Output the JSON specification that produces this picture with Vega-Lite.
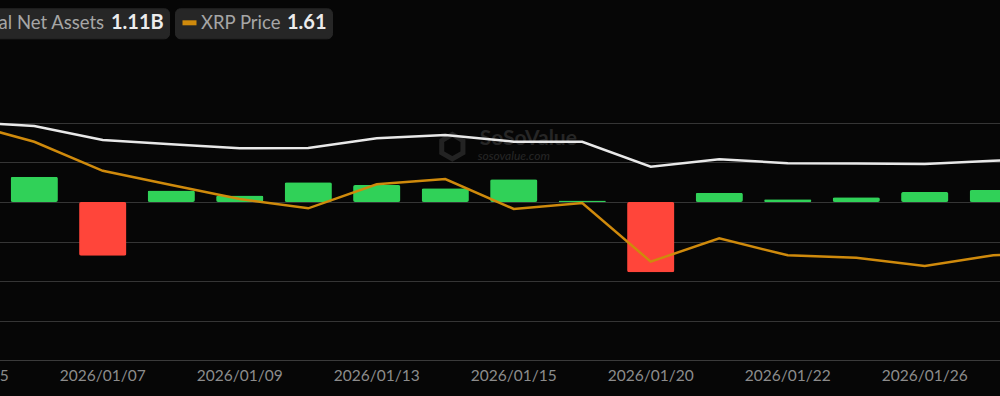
{
  "$schema": "https://vega.github.io/schema/vega-lite/v6.json",
  "width": 1164.5,
  "height": 237,
  "autosize": {"type": "none"},
  "padding": {"left": -68.5, "top": 123, "right": -96, "bottom": 36},
  "background": "#060606",
  "config": {
    "view": {"stroke": null},
    "font": "Lato",
    "legend": {
      "orient": "none",
      "direction": "horizontal",
      "titleOrient": "right",
      "titleColor": "#ececec",
      "titleFontWeight": "bold",
      "titleFontSize": 20,
      "titlePadding": 6,
      "labelColor": "#a6a6a6",
      "labelFontSize": 18.5,
      "labelFontWeight": "normal",
      "labelOffset": 2,
      "symbolType": "stroke",
      "symbolStrokeWidth": 5,
      "symbolSize": 196,
      "fillColor": "#262626",
      "cornerRadius": 5,
      "padding": 5,
      "strokeColor": "#262626",
      "legendY": -114.7
    }
  },
  "data": {
    "values": [
      {"date": "2026/01/05", "flow": 46000000, "assets": 1326000000, "price": 2.40},
      {"date": "2026/01/06", "flow": 19100000, "assets": 1303000000, "price": 2.305},
      {"date": "2026/01/07", "flow": -40800000, "assets": 1225000000, "price": 2.158},
      {"date": "2026/01/08", "flow": 8700000, "assets": 1201000000, "price": 2.086},
      {"date": "2026/01/09", "flow": 4900000, "assets": 1179000000, "price": 2.015},
      {"date": "2026/01/12", "flow": 15000000, "assets": 1181000000, "price": 1.968},
      {"date": "2026/01/13", "flow": 12900000, "assets": 1235000000, "price": 2.090},
      {"date": "2026/01/14", "flow": 10500000, "assets": 1253000000, "price": 2.116},
      {"date": "2026/01/15", "flow": 17200000, "assets": 1216000000, "price": 1.965},
      {"date": "2026/01/16", "flow": 1100000, "assets": 1215000000, "price": 1.995},
      {"date": "2026/01/20", "flow": -53300000, "assets": 1077000000, "price": 1.698},
      {"date": "2026/01/21", "flow": 7100000, "assets": 1118000000, "price": 1.816},
      {"date": "2026/01/22", "flow": 2000000, "assets": 1096000000, "price": 1.730},
      {"date": "2026/01/23", "flow": 3600000, "assets": 1095000000, "price": 1.718},
      {"date": "2026/01/26", "flow": 7600000, "assets": 1092000000, "price": 1.676},
      {"date": "2026/01/27", "flow": 9100000, "assets": 1110000000, "price": 1.730},
      {"date": "2026/01/28", "flow": 5000000, "assets": 1116000000, "price": 1.750}
    ]
  },
  "encoding": {
    "x": {
      "field": "date",
      "type": "ordinal",
      "sort": null,
      "scale": {"paddingInner": 0.31, "paddingOuter": 0.155},
      "axis": {
        "title": null,
        "values": ["2026/01/05", "2026/01/07", "2026/01/09", "2026/01/13", "2026/01/15", "2026/01/20", "2026/01/22", "2026/01/26"],
        "labelAngle": 0,
        "ticks": false,
        "grid": false,
        "domainColor": "#3a3a3a",
        "labelColor": "#8c8c8c",
        "labelFontSize": 15.5,
        "labelPadding": 8
      }
    }
  },
  "layer": [
    {
      "mark": {"type": "bar", "cornerRadius": 2},
      "encoding": {
        "y": {
          "field": "flow",
          "type": "quantitative",
          "scale": {"domain": [-120000000, 60000000], "nice": false, "zero": false},
          "axis": {
            "title": null,
            "labels": false,
            "ticks": false,
            "domain": false,
            "grid": true,
            "gridColor": "#353535",
            "values": [-90000000, -60000000, -30000000, 0, 30000000, 60000000]
          }
        },
        "color": {"condition": {"test": "datum.flow < 0", "value": "#ff453a"}, "value": "#30d158"}
      }
    },
    {
      "transform": [{"filter": "datum.date === '2026/01/14'"}],
      "mark": {"type": "point", "shape": "M0,-1L0.866,-0.5L0.866,0.5L0,1L-0.866,0.5L-0.866,-0.5Z", "size": 600, "filled": false, "strokeWidth": 5, "color": "#232323", "opacity": 1},
      "encoding": {
        "x": {"field": "date", "type": "ordinal", "bandPosition": 0.65},
        "y": {"datum": 42000000, "scale": {"domain": [-120000000, 60000000], "nice": false, "zero": false}, "axis": null}
      }
    },
    {
      "transform": [{"filter": "datum.date === '2026/01/15'"}],
      "mark": {"type": "text", "fontWeight": "bold", "fontSize": 21, "color": "#262626", "baseline": "middle"},
      "encoding": {
        "x": {"field": "date", "type": "ordinal", "bandPosition": 0.81},
        "y": {"datum": 47800000, "scale": {"domain": [-120000000, 60000000], "nice": false, "zero": false}, "axis": null},
        "text": {"value": "SoSoValue"}
      }
    },
    {
      "transform": [{"filter": "datum.date === '2026/01/15'"}],
      "mark": {"type": "text", "fontStyle": "italic", "fontSize": 12, "color": "#262626", "baseline": "middle"},
      "encoding": {
        "x": {"field": "date", "type": "ordinal", "bandPosition": 0.5},
        "y": {"datum": 34700000, "scale": {"domain": [-120000000, 60000000], "nice": false, "zero": false}, "axis": null},
        "text": {"value": "sosovalue.com"}
      }
    },
    {
      "mark": {"type": "line", "strokeWidth": 2.5},
      "encoding": {
        "y": {"field": "assets", "type": "quantitative", "scale": {"domain": [0, 1320000000], "nice": false, "zero": false}, "axis": null},
        "color": {"datum": "Total Net Assets", "scale": {"range": ["#e8e8e8"]}, "legend": {"title": "1.11B", "legendX": 15.5}}
      }
    },
    {
      "mark": {"type": "line", "strokeWidth": 2.5},
      "encoding": {
        "y": {"field": "price", "type": "quantitative", "scale": {"domain": [1.2, 2.4], "nice": false, "zero": false}, "axis": null},
        "color": {"datum": "XRP Price", "scale": {"range": ["#cf8a0c"]}, "legend": {"title": "1.61", "legendX": 243.5}}
      }
    }
  ],
  "resolve": {"scale": {"y": "independent", "color": "independent"}}
}
